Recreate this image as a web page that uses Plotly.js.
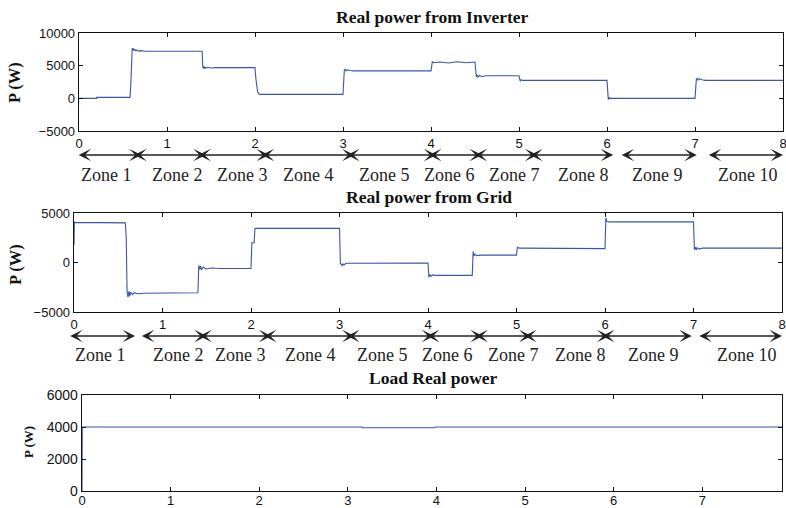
<!DOCTYPE html>
<html><head><meta charset="utf-8">
<script src="https://cdn.plot.ly/plotly-3.0.1.min.js"></script>
<style>html,body{margin:0;padding:0;background:#fff}#chart{width:786px;height:508px}</style>
</head><body><div id="chart"></div>
<script>
// Real power from inverter (time s, power W)
const invT = [0,0.2,0.201,0.58,0.59, 0.6,0.605,0.61,0.615,0.62, 0.63,0.64,0.65,0.67,0.7, 0.75,1.4,1.405,1.41,1.415, 1.42,1.43,1.44,1.46,1.5, 1.55,2.0,2.01,2.02,2.03, 2.05,3.0,3.015,3.025,3.035, 3.05,3.08,3.12,4.0,4.015, 4.03,4.1,4.2,4.3,4.4, 4.49,4.5,4.515,4.525,4.535, 4.55,4.58,4.62,4.7,5.0, 5.015,5.025,5.04,6.0,6.015, 6.025,6.04,7.0,7.015,7.025, 7.035,7.05,7.08,7.12,8.0];
const invP = [0,0,150,150,2500, 7300,7700,7400,7650,7350, 7500,7300,7400,7250,7300, 7200,7200,5000,4600,4900, 4550,4800,4600,4750,4650, 4700,4700,3000,2000,1000, 600,600,4300,4450,4200, 4350,4250,4200,4200,5600, 5450,5550,5400,5600,5450, 5550,5550,3300,3600,3200, 3500,3300,3450,3450,3450, 2600,2850,2750,2750,-200, 100,0,0,2900,3100, 2800,3000,2850,2750,2750];

// Real power from grid
const gridT = [0,0.004,0.008,0.58,0.59, 0.6,0.61,0.62,0.63,0.64, 0.66,0.68,0.72,0.8,1.4, 1.41,1.42,1.43,1.44,1.46, 1.49,1.55,1.65,2.0,2.01, 2.035,2.045,3.0,3.01,3.03, 3.04,3.05,3.07,3.1,4.0, 4.01,4.02,4.03,4.05,4.08, 4.5,4.51,4.52,4.53,4.55, 4.6,5.0,5.01,5.03,5.06, 6.0,6.01,6.02,6.04,7.0, 7.01,7.02,7.03,7.04,7.06, 7.1,8.0];
const gridP = [1800,4100,4050,4000,2500, -3000,-3500,-2900,-3400,-3000, -3250,-3050,-3150,-3100,-3050, -300,-700,-350,-750,-450, -650,-550,-600,-600,2000, 2000,3450,3450,-100,-300, -150,-250,-100,-80,-50, -1500,-1200,-1400,-1250,-1300, -1300,1100,650,850,700, 750,750,1550,1450,1450, 1400,4500,4150,4100,4100, 1300,1550,1250,1500,1350, 1450,1450];

// Load real power
const loadT = [0,0.003,3.16,3.165,3.98,3.985,7.9];
const loadP = [0,4000,4000,3950,3950,4000,4000];

// Zones
const zoneNames = ['Zone 1','Zone 2','Zone 3','Zone 4','Zone 5','Zone 6','Zone 7','Zone 8','Zone 9','Zone 10'];
const invZoneStart = [-0.02,0.61,1.34,2.06,3.03,3.96,4.48,5.11,6.15,7.14];
const invZoneEnd   = [0.71,1.44,2.16,3.13,4.06,4.58,5.21,6.07,7.02,8.0];
const invZoneLabelX = [0.31,1.11,1.85,2.6,3.47,4.2,4.94,5.73,6.57,7.6];
const gridZoneStart = [-0.06,0.75,1.40,2.13,3.07,3.97,4.52,5.07,5.95,7.05];
const gridZoneEnd   = [0.69,1.50,2.23,3.17,4.07,4.62,5.17,6.05,6.98,8.0];
const gridZoneLabelX = [0.29,1.17,1.88,2.67,3.48,4.21,4.96,5.72,6.54,7.6];

const blue = '#3b55a8';
const serif = 'Liberation Serif, Times New Roman, serif';
const sans = 'Liberation Sans, Arial, sans-serif';

const traces = [
  {x: invT, y: invP, type: 'scatter', mode: 'lines', line: {color: blue, width: 1.1}, xaxis: 'x', yaxis: 'y', hoverinfo: 'skip'},
  {x: gridT, y: gridP, type: 'scatter', mode: 'lines', line: {color: blue, width: 1.1}, xaxis: 'x2', yaxis: 'y2', hoverinfo: 'skip'},
  {x: loadT, y: loadP, type: 'scatter', mode: 'lines', line: {color: blue, width: 1.1}, xaxis: 'x3', yaxis: 'y3', hoverinfo: 'skip'}
];

function axis(extra) {
  return Object.assign({
    showline: true, linecolor: '#111', linewidth: 1.3, mirror: 'ticks',
    ticks: 'inside', ticklen: 4, tickcolor: '#111', tickwidth: 1,
    showgrid: false, zeroline: false, tickformat: 'd',
    ticklabeloverflow: 'allow',
    tickfont: {family: sans, size: 13, color: '#111'}, fixedrange: true
  }, extra);
}

const annotations = [];
function zoneRow(starts, ends, labelsX, xref, yArrow, yLabel) {
  for (let i = 0; i < zoneNames.length; i++) {
    annotations.push({
      xref: xref, yref: 'paper', x: ends[i], y: yArrow,
      axref: xref, ayref: 'pixel', ax: starts[i], ay: 0,
      text: '', showarrow: true, arrowside: 'end+start',
      arrowhead: 3, startarrowhead: 3, arrowsize: 1.6, startarrowsize: 1.6,
      arrowwidth: 1.3, arrowcolor: '#222', standoff: 0, startstandoff: 0
    });
    annotations.push({
      xref: xref, yref: 'paper', x: labelsX[i], y: yLabel, yanchor: 'middle', xanchor: 'center',
      text: zoneNames[i], showarrow: false,
      font: {family: serif, size: 18, color: '#222'}
    });
  }
}
zoneRow(invZoneStart, invZoneEnd, invZoneLabelX, 'x', 1 - 155/508, 1 - 175/508);
zoneRow(gridZoneStart, gridZoneEnd, gridZoneLabelX, 'x2', 1 - 336/508, 1 - 355/508);

function title(text, xc, yc) {
  annotations.push({xref: 'paper', yref: 'paper', x: xc, y: yc, xanchor: 'center', yanchor: 'middle',
    text: '<b>' + text + '</b>', showarrow: false, font: {family: serif, size: 17.5, color: '#111'}});
}
title('Real power from Inverter', 432/786, 1 - 17/508);
title('Real power from Grid', 429/786, 1 - 197/508);
title('Load Real power', 433/786, 1 - 378/508);

function ytitle(xc, yc, size) {
  annotations.push({xref: 'paper', yref: 'paper', x: xc, y: yc, xanchor: 'center', yanchor: 'middle',
    text: '<b>P (W)</b>', textangle: -90, showarrow: false, font: {family: serif, size: size, color: '#111'}});
}
ytitle(15/786, 1 - 83/508, 16.5);
ytitle(15/786, 1 - 265/508, 16.5);
ytitle(28/786, 1 - 442/508, 13);

const layout = {
  width: 786, height: 508,
  margin: {l: 0, r: 0, t: 0, b: 0},
  paper_bgcolor: '#fff', plot_bgcolor: '#fff',
  showlegend: false,
  xaxis: axis({domain: [79/786, 783/786], range: [0, 8], dtick: 1, anchor: 'y'}),
  yaxis: axis({domain: [1 - 131/508, 1 - 33/508], range: [-5000, 10000], dtick: 5000, anchor: 'x'}),
  xaxis2: axis({domain: [74/786, 782/786], range: [0, 8], dtick: 1, anchor: 'y2'}),
  yaxis2: axis({domain: [1 - 312/508, 1 - 213/508], range: [-5000, 5000], dtick: 5000, anchor: 'x2'}),
  xaxis3: axis({domain: [82/786, 782/786], range: [0, 7.9], dtick: 1, anchor: 'y3', ticklabelstandoff: -3}),
  yaxis3: axis({domain: [1 - 491/508, 1 - 395/508], range: [0, 6000], dtick: 2000, anchor: 'x3',
                tickfont: {family: sans, size: 14, color: '#111'}}),
  annotations: annotations
};

Plotly.newPlot('chart', traces, layout, {staticPlot: true, displayModeBar: false});
</script>
</body></html>
